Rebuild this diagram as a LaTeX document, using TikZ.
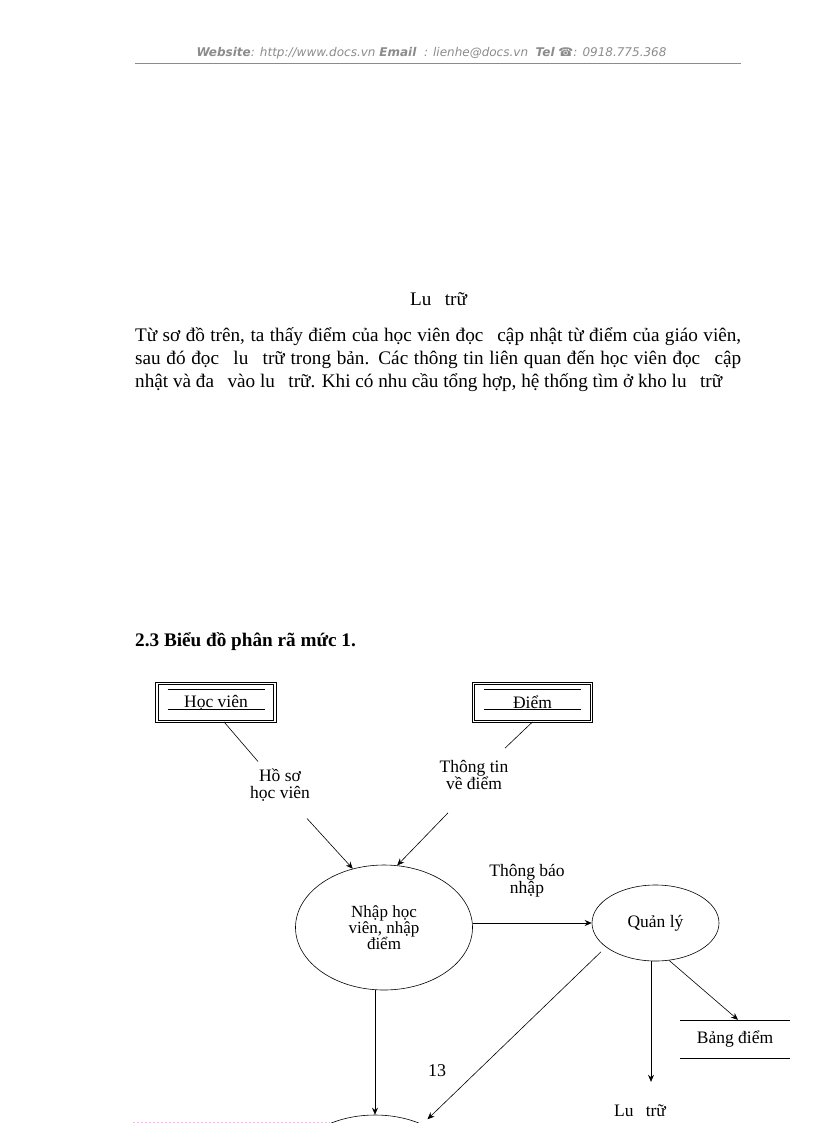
\documentclass[tikz,border=0pt]{standalone}
\usepackage{fontspec}
\setmainfont{Liberation Serif}
\newfontfamily\headfont{DejaVu Sans}
\usepackage{xcolor}
\usepackage{tikz}
\usetikzlibrary{arrows.meta, positioning, shapes.geometric}
\definecolor{headgray}{RGB}{140, 140, 140}
\definecolor{breakpink}{RGB}{240, 185, 230}
\newcommand{\gap}{\hspace{0.45em}}
\tikzset{
    bodytext/.style={
        inner sep=0pt,
        anchor=base west,
        font=\fontsize{19.2}{23}\selectfont
    },
    entity/.style={
        rectangle,
        draw,
        double,
        double distance=1.6pt,
        line width=0.8pt,
        minimum width=118pt,
        minimum height=38pt,
        inner sep=0pt,
        font=\fontsize{17.5}{17}\selectfont,
        path picture={
            \draw[line width=0.6pt] ([xshift=10.5pt,yshift=-5.5pt]path picture bounding box.north west) -- ([xshift=-10.5pt,yshift=-5.5pt]path picture bounding box.north east);
            \draw[line width=0.6pt] ([xshift=10.5pt,yshift=12.5pt]path picture bounding box.south west) -- ([xshift=-10.5pt,yshift=12.5pt]path picture bounding box.south east);
        }
    },
    process/.style={
        ellipse,
        draw,
        line width=0.6pt,
        inner sep=0pt,
        align=center,
        font=\fontsize{17}{16}\selectfont
    },
    store/.style={
        rectangle,
        minimum width=110pt,
        minimum height=38pt,
        inner sep=0pt,
        font=\fontsize{17.5}{17}\selectfont
    },
    flowlabel/.style={
        align=center,
        inner sep=0pt,
        font=\fontsize{17.5}{17}\selectfont
    },
    flow/.style={
        line width=0.6pt
    },
    flowarrow/.style={
        ->,
        >={Stealth[length=7pt,width=6pt]},
        line width=0.6pt
    }
}

\begin{document}
\begin{tikzpicture}[x=1pt, y=-1pt]
    \useasboundingbox (0,0) rectangle (816,1123);
    \clip (0,0) rectangle (816,1123);
    \fill[white] (0,0) rectangle (816,1123);

    \node[anchor=base, inner sep=0pt, text=headgray, font=\headfont\fontsize{12}{13}\selectfont\itshape] (header) at (431.5,57)
        {{\bfseries Website}: http://www.docs.vn {\bfseries Email} \ : lienhe@docs.vn \ {\bfseries Tel} {\bfseries ☎}: 0918.775.368};
    \draw[headgray, line width=0.8pt] (135,63) -- (741,63);

    \node[bodytext, anchor=base] (caption) at (438.5,305) {Lu\gap{} trữ};

    \node[bodytext] (para1) at (135,341) {\makebox[606pt][s]{Từ sơ đồ trên, ta thấy điểm của học viên đọc\gap{} cập nhật từ điểm của giáo viên,}};
    \node[bodytext] (para2) at (135,364) {\makebox[606pt][s]{sau đó đọc\gap{} lu\gap{} trữ trong bản. Các thông tin liên quan đến học viên đọc\gap{} cập}};
    \node[bodytext] (para3) at (135,387) {nhật và đa\gap{} vào lu\gap{} trữ. Khi có nhu cầu tổng hợp, hệ thống tìm ở kho lu\gap{} trữ};

    \node[bodytext, font=\fontsize{19.2}{23}\selectfont\bfseries] (title) at (135,646) {2.3 Biểu đồ phân rã mức 1.};

    \node[entity] (hocvien) at (216,702.5) {Học viên};
    \node[entity] (diem) at (532.5,702.5) {Điểm};

    \node[flowlabel] (lblhoso) at (280,785) {Hồ sơ\\học viên};
    \node[flowlabel] (lblthongtin) at (474,775) {Thông tin\\về điểm};
    \node[flowlabel] (lblthongbao) at (527,881) {Thông báo\\nhập};

    \node[process, minimum width=177pt, minimum height=125pt] (nhap) at (384,927.5) {Nhập học\\viên, nhập\\điểm};
    \node[process, minimum width=127pt, minimum height=76pt, font=\fontsize{17.5}{17}\selectfont] (quanly) at (655.5,923) {Quản lý};
    \node[process, minimum width=178pt, minimum height=124pt] (bottom) at (375,1177) {};

    \node[store] (bangdiem) at (735,1039) {Bảng điểm};
    \draw[flow] (bangdiem.north west) -- (bangdiem.north east);
    \draw[flow] (bangdiem.south west) -- (bangdiem.south east);

    \node[flowlabel] (lblluutru) at (640,1111) {Lu\gap{} trữ};
    \node[flowlabel, font=\fontsize{18}{19}\selectfont] (pageno) at (437,1071) {13};

    \draw[flow] ([xshift=8pt]hocvien.south) -- ([shift={(-22pt,7pt)}]lblhoso.north);
    \draw[flow] (diem.south) -- ([shift={(31pt,12pt)}]lblthongtin.north);
    \draw[flowarrow] ([shift={(27pt,-17pt)}]lblhoso.south) -- (nhap.118);
    \draw[flowarrow] ([shift={(-26pt,-23pt)}]lblthongtin.south) -- (nhap.78);
    \draw[flowarrow] (nhap.east |- quanly.west) -- (quanly.west);
    \draw[flowarrow] (bottom.north |- nhap.south) -- (bottom.north);
    \draw[flowarrow] ([yshift=-9pt]quanly.200) -- ([shift={(5pt,5pt)}]bottom.48);
    \draw[flowarrow, shorten >=23pt] ([xshift=-4.5pt]quanly.south) -- ([xshift=-4.5pt]quanly.south |- lblluutru.north);
    \draw[flowarrow] (quanly.290) -- ([xshift=3pt]bangdiem.north);

    \draw[breakpink, line width=0.8pt, dash pattern=on 2pt off 2pt] (133,1122) -- (330,1122);
\end{tikzpicture}
\end{document}
